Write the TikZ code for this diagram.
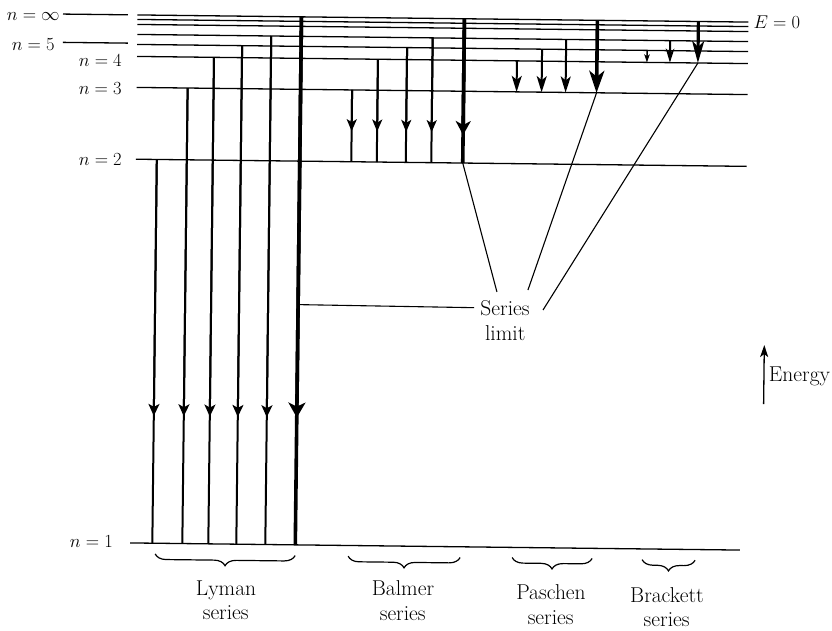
\RequirePackage{fix-cm}
\documentclass[tikz,border=0pt]{standalone}
\usetikzlibrary{arrows.meta,decorations.pathreplacing}
\tikzset{
  level/.style={line width=1.3pt},
  thinarr/.style={line width=2pt},
  thickarr/.style={line width=3.6pt},
  lead/.style={line width=1.1pt},
  lab/.style={inner sep=0pt, font=\fontsize{18.5}{22}\selectfont},
  txt/.style={inner sep=0pt, font=\fontsize{21.5}{26}\selectfont},
  sbrace/.style={decorate, decoration={brace, mirror, amplitude=11pt}, line width=1.2pt},
  hLy/.style={-{Stealth[length=12pt,width=11pt,inset=3pt]}},
  hLyT/.style={-{Stealth[length=15pt,width=17pt,inset=4pt]}},
  hBa/.style={-{Stealth[length=12pt,width=10pt,inset=3pt]}},
  hBaT/.style={-{Stealth[length=14pt,width=15pt,inset=4pt]}},
  hPa/.style={-{Stealth[length=16pt,width=10pt,inset=4pt]}},
  hPaT/.style={-{Stealth[length=22pt,width=15pt,inset=6pt]}},
  hBrS/.style={-{Stealth[length=8pt,width=5.5pt,inset=2pt]}},
  hBrM/.style={-{Stealth[length=14pt,width=8.5pt,inset=4pt]}},
  hBrT/.style={-{Stealth[length=22pt,width=12pt,inset=6pt]}},
  hEn/.style={-{Stealth[length=12pt,width=8pt,inset=3pt]}},
}
\begin{document}
\begin{tikzpicture}[x=1pt,y=-1pt]
\useasboundingbox[fill=white] (0,0) rectangle (832,630);
\begin{scope}[rotate around={-0.67:(416,315)}]
% energy levels
\foreach \nm/\yy in {inf/18.2, eig/22.7, sev/27.7, six/37.7, fiv/47.7, fou/59.7, thr/90.7, two/162.5}{
  \coordinate (\nm L) at (134,\yy);
  \coordinate (\nm R) at (745,\yy);
  \draw[level] (\nm L) -- (\nm R);
}
\coordinate (oneL) at (132.7,546.3);
\coordinate (oneR) at (742.7,546.3);
\draw[level] (oneL) -- (oneR);
% short lines near left labels
\coordinate (sinfA) at (59.5,18.2);
\coordinate (sinfB) at (124.5,18.2);
\draw[level] (sinfA) -- (sinfB);
\coordinate (sfivA) at (59.8,46.5);
\coordinate (sfivB) at (124.8,46.5);
\draw[level] (sfivA) -- (sfivB);
% level labels
\node[lab, anchor=base east] (linf) at (56.5,24.5) {$n=\infty$};
\node[lab, anchor=base east] (l5) at (51.8,54.4) {$n=5$};
\node[lab, anchor=base east] (l4) at (119,69.7) {$n=4$};
\node[lab, anchor=base east] (l3) at (119.3,97.7) {$n=3$};
\node[lab, anchor=base east] (l2) at (120.2,168.7) {$n=2$};
\node[lab, anchor=base east] (l1) at (115.7,551.5) {$n=1$};
\node[lab, anchor=base west] (lE) at (750,24.4) {$E=0$};
% Lyman series
\foreach \i/\xx/\yy in {1/155/162.5, 2/185/90.7, 3/211/59.7, 4/239/47.7, 5/268/37.7}{
  \coordinate (ly\i t) at (\xx,\yy);
  \coordinate (ly\i m) at (\xx,419);
  \coordinate (ly\i b) at (\xx,546.3);
  \draw[thinarr] (ly\i t) -- (ly\i b);
  \draw[thinarr,hLy] (ly\i t) -- (ly\i m);
}
\coordinate (ly6t) at (298,18.2);
\coordinate (ly6m) at (298,419);
\coordinate (ly6b) at (298,546.3);
\draw[thickarr] (ly6t) -- (ly6b);
\draw[thickarr,hLyT] (ly6t) -- (ly6m);
% Balmer series
\foreach \i/\xx/\yy in {1/349.5/90.7, 2/375/59.7, 3/404/47.7, 4/429.5/37.7}{
  \coordinate (ba\i t) at (\xx,\yy);
  \coordinate (ba\i m) at (\xx,132);
  \coordinate (ba\i b) at (\xx,162.5);
  \draw[thinarr] (ba\i t) -- (ba\i b);
  \draw[thinarr,hBa] (ba\i t) -- (ba\i m);
}
\coordinate (ba5t) at (461,18.2);
\coordinate (ba5m) at (461,134.5);
\coordinate (ba5b) at (461,162.5);
\draw[thickarr] (ba5t) -- (ba5b);
\draw[thickarr,hBaT] (ba5t) -- (ba5m);
% Paschen series
\foreach \i/\xx/\yy in {1/514/59.7, 2/539/47.7, 3/563/37.7}{
  \coordinate (pa\i t) at (\xx,\yy);
  \coordinate (pa\i b) at (\xx,90.7);
  \draw[thinarr,hPa] (pa\i t) -- (pa\i b);
}
\coordinate (pa4t) at (594,18.2);
\coordinate (pa4b) at (594,90.7);
\draw[thickarr,hPaT] (pa4t) -- (pa4b);
% Brackett series
\coordinate (br1t) at (644,47.7);
\coordinate (br1b) at (644,59.7);
\draw[line width=1.5pt,hBrS] (br1t) -- (br1b);
\coordinate (br2t) at (667,37.7);
\coordinate (br2b) at (667,59.7);
\draw[thinarr,hBrM] (br2t) -- (br2b);
\coordinate (br3t) at (695,18.2);
\coordinate (br3b) at (695,59.7);
\draw[line width=3.2pt,hBrT] (br3t) -- (br3b);
% series limit
\node[txt, anchor=base, inner sep=6pt] (ser) at (505,314) {Series};
\node[txt, anchor=base] (lim) at (505.5,339.7) {limit};
\coordinate (ly6h) at (298,306);
\draw[lead] (ly6h) -- (ser.west);
\coordinate (ca) at (496.7,291);
\draw[lead] (ba5b) -- (ca);
\coordinate (cb) at (527.7,288.7);
\draw[lead] (pa4b) -- (cb);
\coordinate (cc) at (543,308.5);
\draw[lead] (br3b) -- (cc);
% energy arrow
\coordinate (eb) at (764.7,400);
\coordinate (et) at (764.7,341);
\draw[line width=1.3pt,hEn] (eb) -- (et);
\node[txt, anchor=base west] (en) at (769.5,377) {Energy};
% braces
\coordinate (bLa) at (158,557);
\coordinate (bLb) at (298,557);
\draw[sbrace] (bLa) -- (bLb);
\coordinate (bBa) at (351,557);
\coordinate (bBb) at (463,557);
\draw[sbrace] (bBa) -- (bBb);
\coordinate (bPa) at (515,556.4);
\coordinate (bPb) at (595,556.4);
\draw[sbrace] (bPa) -- (bPb);
\coordinate (bRa) at (645,557);
\coordinate (bRb) at (698,557);
\draw[sbrace] (bRa) -- (bRb);
% series names
\node[txt, anchor=base] (lyA) at (229.3,597.2) {Lyman};
\node[txt, anchor=base] (lyB) at (229.3,622.2) {series};
\node[txt, anchor=base] (baA) at (406.3,595.2) {Balmer};
\node[txt, anchor=base] (baB) at (406.3,620.2) {series};
\node[txt, anchor=base] (paA) at (554.3,598.4) {Paschen};
\node[txt, anchor=base] (paB) at (554.3,623.2) {series};
\node[txt, anchor=base] (brA) at (670.3,599.6) {Brackett};
\node[txt, anchor=base] (brB) at (670.3,623.8) {series};
\end{scope}
\end{tikzpicture}
\end{document}
